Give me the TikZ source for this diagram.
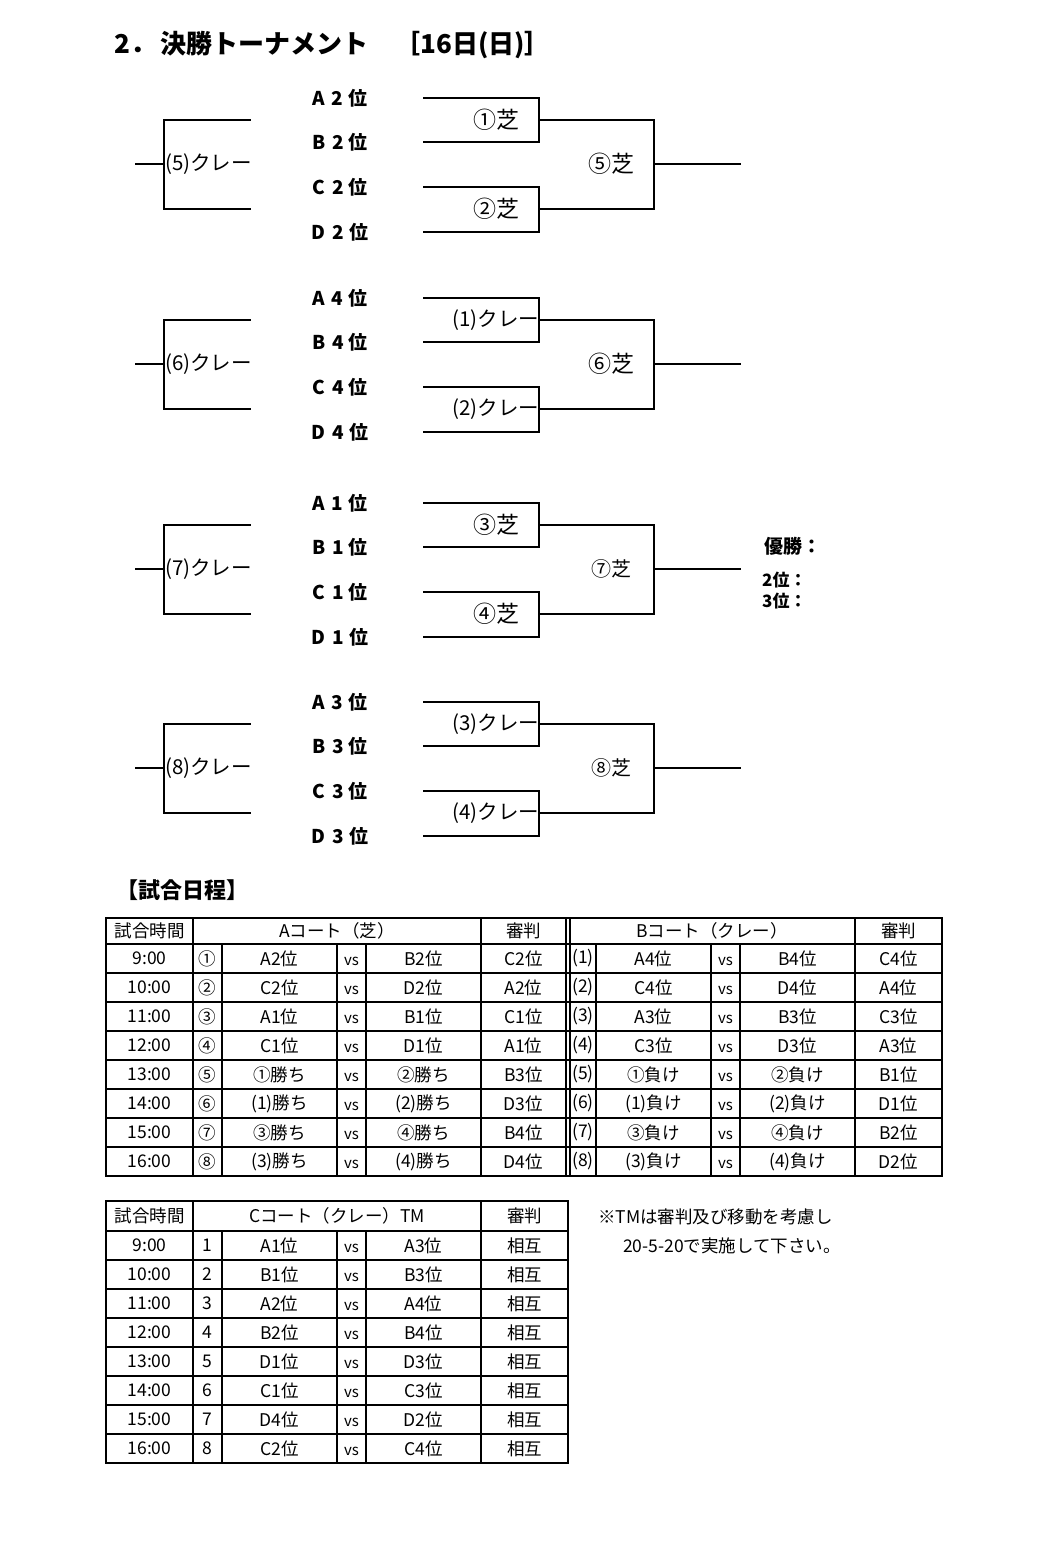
\documentclass[tikz,border=0pt]{standalone}
\usepackage{fontspec}
\newfontfamily\jp{Noto Sans CJK JP}
\usetikzlibrary{positioning}
\tikzset{
  bracketline/.style={line width=1.2pt,line cap=rect},
  seedlabel/.style={font=\jp\bfseries\fontsize{19}{22}\selectfont,inner sep=0pt},
  matchlabel/.style={font=\jp\fontsize{20.5}{24}\selectfont,inner sep=0pt},
  turflabel/.style={font=\jp\fontsize{23}{26}\selectfont,inner sep=0pt},
  headlabel/.style={font=\jp\bfseries\fontsize{26}{30}\selectfont,inner sep=0pt,anchor=west},
  winlabel/.style={font=\jp\bfseries\fontsize{17}{20}\selectfont,inner sep=0pt,anchor=west},
  cell/.style={font=\jp\fontsize{17.5}{20}\selectfont,inner sep=0pt},
  vscell/.style={font=\jp\fontsize{15}{17}\selectfont,inner sep=0pt},
  notelabel/.style={font=\jp\fontsize{17.5}{20}\selectfont,inner sep=0pt,anchor=west},
  thinrule/.style={line width=1.1pt},
  thickrule/.style={line width=2.8pt},
}

\begin{document}
\begin{tikzpicture}[x=1pt,y=-1pt]
  \useasboundingbox[fill=white] (0,0) rectangle (1052,1554);
  % title
  \node[headlabel] (title) at (114,45) {2．\,決勝トーナメント　［16日(日)］};

  % four brackets
  \foreach \g/\dy/\rk/\lname/\ua/\ub/\ust/\fin/\fs in
    {1/0/2/{(5)クレー}/{①芝}/{②芝}/turflabel/{⑤芝}/23,
     2/200/4/{(6)クレー}/{(1)クレー}/{(2)クレー}/matchlabel/{⑥芝}/23,
     3/405/1/{(7)クレー}/{③芝}/{④芝}/turflabel/{⑦芝}/20,
     4/604/3/{(8)クレー}/{(3)クレー}/{(4)クレー}/matchlabel/{⑧芝}/20}{
    \node[seedlabel] (sA\g) at (340,98+\dy) {A\hspace{7pt}\rk\hspace{5pt}位};
    \node[seedlabel] (sB\g) at (340,142+\dy) {B\hspace{7pt}\rk\hspace{5pt}位};
    \node[seedlabel] (sC\g) at (340,187+\dy) {C\hspace{7pt}\rk\hspace{5pt}位};
    \node[seedlabel] (sD\g) at (340,232+\dy) {D\hspace{7pt}\rk\hspace{5pt}位};
    % left bracket
    \coordinate (lt\g) at (164,120+\dy);
    \coordinate (lb\g) at (164,209+\dy);
    \coordinate (lm\g) at (164,164+\dy);
    \coordinate (lin\g) at (136,164+\dy);
    \coordinate (ltx\g) at (250,120+\dy);
    \coordinate (lbx\g) at (250,209+\dy);
    \draw[bracketline] (ltx\g) -- (lt\g) -- (lb\g) -- (lbx\g);
    \draw[bracketline] (lin\g) -- (lm\g);
    \node[matchlabel,anchor=west] (left\g) at (165,164+\dy) {\lname};
    % right brackets
    \coordinate (ra\g) at (424,98+\dy);
    \coordinate (rb\g) at (424,142+\dy);
    \coordinate (rc\g) at (424,187+\dy);
    \coordinate (rd\g) at (424,232+\dy);
    \coordinate (u\g) at (539,120+\dy);
    \coordinate (v\g) at (539,209+\dy);
    \coordinate (ut\g) at (654,120+\dy);
    \coordinate (vt\g) at (654,209+\dy);
    \coordinate (fm\g) at (654,164+\dy);
    \coordinate (out\g) at (740,164+\dy);
    \draw[bracketline] (ra\g) -| (u\g) |- (rb\g);
    \draw[bracketline] (rc\g) -| (v\g) |- (rd\g);
    \draw[bracketline] (u\g) -- (ut\g) -- (vt\g) -- (v\g);
    \draw[bracketline] (fm\g) -- (out\g);
    \node[\ust] (mu\g) at (496,120+\dy) {\ua};
    \node[\ust] (mv\g) at (496,209+\dy) {\ub};
    \node[turflabel,font=\jp\fontsize{\fs}{26}\selectfont] (mf\g) at (611,164+\dy) {\fin};
  }

  % results
  \node[winlabel,font=\jp\bfseries\fontsize{19}{22}\selectfont] (win) at (764,546) {優勝：};
  \node[winlabel] (second) at (762,580) {2位：};
  \node[winlabel] (third) at (762,601) {3位：};

  % schedule
  \node[headlabel,font=\jp\bfseries\fontsize{22}{26}\selectfont] (sched) at (116,890) {【試合日程】};

  % A / B court table
  \foreach \k in {0,...,7}
    \draw[thinrule] (106,944+29*\k) -- (942,944+29*\k);
  \foreach \x in {193,481,566,570,855}
    \draw[thinrule] (\x,918) -- (\x,1176);
  \foreach \x in {222,337,366,596,711,740}
    \draw[thinrule] (\x,944) -- (\x,1176);
  \draw[thickrule] (106,918) rectangle (942,1176);
  \node[cell] (ahead0) at (149.5,931) {試合時間};
  \node[cell] (ahead1) at (337,931) {Aコート（芝）};
  \node[cell] (ahead2) at (523.5,931) {審判};
  \node[cell] (bhead1) at (712,931) {Bコート（クレー）};
  \node[cell] (bhead2) at (898.5,931) {審判};
  \foreach \r/\t/\na/\pa/\qa/\ja/\nb/\pb/\qb/\jb in
    {0/9:00/①/A2位/B2位/C2位/{(1)}/A4位/B4位/C4位,
     1/10:00/②/C2位/D2位/A2位/{(2)}/C4位/D4位/A4位,
     2/11:00/③/A1位/B1位/C1位/{(3)}/A3位/B3位/C3位,
     3/12:00/④/C1位/D1位/A1位/{(4)}/C3位/D3位/A3位,
     4/13:00/⑤/①勝ち/②勝ち/B3位/{(5)}/①負け/②負け/B1位,
     5/14:00/⑥/{(1)勝ち}/{(2)勝ち}/D3位/{(6)}/{(1)負け}/{(2)負け}/D1位,
     6/15:00/⑦/③勝ち/④勝ち/B4位/{(7)}/③負け/④負け/B2位,
     7/16:00/⑧/{(3)勝ち}/{(4)勝ち}/D4位/{(8)}/{(3)負け}/{(4)負け}/D2位}{
    \node[cell] (at\r) at (149.5,958.5+29*\r) {\t};
    \node[cell] (an\r) at (207.5,958.5+29*\r) {\na};
    \node[cell] (ap\r) at (279.5,958.5+29*\r) {\pa};
    \node[vscell] (av\r) at (351.5,961+29*\r) {vs};
    \node[cell] (aq\r) at (423.5,958.5+29*\r) {\qa};
    \node[cell] (aj\r) at (523.5,958.5+29*\r) {\ja};
    \node[cell] (bn\r) at (583,958.5+29*\r) {\nb};
    \node[cell] (bp\r) at (653.5,958.5+29*\r) {\pb};
    \node[vscell] (bv\r) at (725.5,961+29*\r) {vs};
    \node[cell] (bq\r) at (797.5,958.5+29*\r) {\qb};
    \node[cell] (bj\r) at (898.5,958.5+29*\r) {\jb};
  }

  % C court table
  \foreach \k in {0,...,7}
    \draw[thinrule] (106,1231+29*\k) -- (568,1231+29*\k);
  \foreach \x in {193,481}
    \draw[thinrule] (\x,1201) -- (\x,1463);
  \foreach \x in {222,337,366}
    \draw[thinrule] (\x,1231) -- (\x,1463);
  \draw[thickrule] (106,1201) rectangle (568,1463);
  \node[cell] (chead0) at (149.5,1216) {試合時間};
  \node[cell] (chead1) at (337,1216) {Cコート（クレー）TM};
  \node[cell] (chead2) at (524.5,1216) {審判};
  \foreach \r/\t/\pc/\qc in
    {0/9:00/A1位/A3位, 1/10:00/B1位/B3位, 2/11:00/A2位/A4位, 3/12:00/B2位/B4位,
     4/13:00/D1位/D3位, 5/14:00/C1位/C3位, 6/15:00/D4位/D2位, 7/16:00/C2位/C4位}{
    \pgfmathtruncatemacro{\num}{\r+1}
    \node[cell] (ct\r) at (149.5,1245.5+29*\r) {\t};
    \node[cell] (cn\r) at (207.5,1245.5+29*\r) {\num};
    \node[cell] (cp\r) at (279.5,1245.5+29*\r) {\pc};
    \node[vscell] (cv\r) at (351.5,1248+29*\r) {vs};
    \node[cell] (cq\r) at (423.5,1245.5+29*\r) {\qc};
    \node[cell] (cj\r) at (524.5,1245.5+29*\r) {相互};
  }

  % note
  \node[notelabel] (note1) at (598,1217) {※TMは審判及び移動を考慮し};
  \node[notelabel] (note2) at (623,1246) {20-5-20で実施して下さい。};
\end{tikzpicture}
\end{document}
